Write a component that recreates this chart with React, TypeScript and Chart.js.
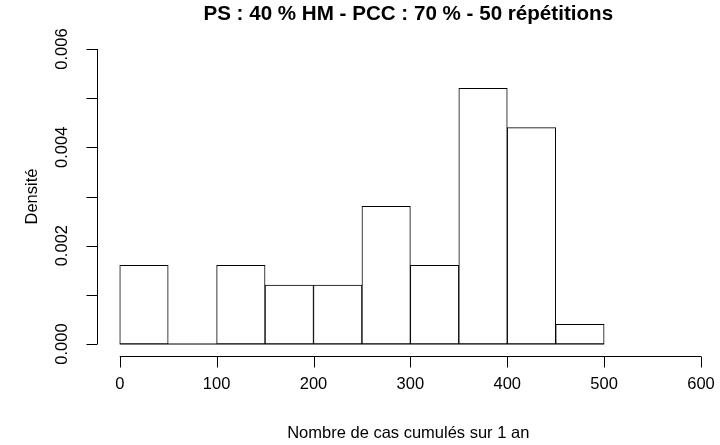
import React, { useEffect, useRef } from "react";
import { Chart, registerables } from "chart.js";

Chart.register(...registerables);

const breaks = [0, 50, 100, 150, 200, 250, 300, 350, 400, 450, 500];
const densities = [0.0016, 0, 0.0016, 0.0012, 0.0012, 0.0028, 0.0016, 0.0052, 0.0044, 0.0004];
const xTicks = [0, 100, 200, 300, 400, 500, 600];
const yTicks = [0, 0.001, 0.002, 0.003, 0.004, 0.005, 0.006];
const yTickLabels = ["0.000", "", "0.002", "", "0.004", "", "0.006"];
const title = "PS : 40 % HM - PCC : 70 % - 50 répétitions";
const xTitle = "Nombre de cas cumulés sur 1 an";
const yTitle = "Densité";

const FONT = '"Liberation Sans", Arial, Helvetica, sans-serif';

const rAxesPlugin = {
  id: "rAxes",
  afterDraw(chart: any) {
    const ctx = chart.ctx;
    const xs = chart.scales.x;
    const ys = chart.scales.y;
    const area = chart.chartArea;
    ctx.save();
    ctx.strokeStyle = "#000";
    ctx.fillStyle = "#000";
    ctx.lineWidth = 1;
    const tl = 11;

    // x axis
    const ax = Math.round(area.bottom) + 0.5;
    ctx.beginPath();
    ctx.moveTo(xs.getPixelForValue(xTicks[0]), ax);
    ctx.lineTo(xs.getPixelForValue(xTicks[xTicks.length - 1]), ax);
    xTicks.forEach((t) => {
      const px = Math.round(xs.getPixelForValue(t)) + 0.5;
      ctx.moveTo(px, ax);
      ctx.lineTo(px, ax + tl);
    });
    ctx.stroke();
    ctx.font = `16.5px ${FONT}`;
    ctx.textAlign = "center";
    ctx.textBaseline = "middle";
    xTicks.forEach((t) => {
      ctx.fillText(String(t), xs.getPixelForValue(t), 384);
    });

    // y axis
    const ay = Math.round(area.left) + 0.5;
    ctx.beginPath();
    ctx.moveTo(ay, ys.getPixelForValue(yTicks[0]));
    ctx.lineTo(ay, ys.getPixelForValue(yTicks[yTicks.length - 1]));
    yTicks.forEach((t) => {
      const py = Math.round(ys.getPixelForValue(t)) + 0.5;
      ctx.moveTo(ay, py);
      ctx.lineTo(ay - tl, py);
    });
    ctx.stroke();
    yTicks.forEach((t, i) => {
      const lbl = yTickLabels[i];
      if (!lbl) return;
      ctx.save();
      ctx.translate(62, ys.getPixelForValue(t));
      ctx.rotate(-Math.PI / 2);
      ctx.fillText(lbl, 0, 0);
      ctx.restore();
    });

    // titles
    const cx = (area.left + area.right) / 2;
    ctx.fillText(xTitle, cx, 433);
    ctx.save();
    ctx.translate(32, (area.top + area.bottom) / 2);
    ctx.rotate(-Math.PI / 2);
    ctx.fillText(yTitle, 0, 0);
    ctx.restore();
    ctx.font = `bold 20.6px ${FONT}`;
    ctx.fillText(title, cx, 14);
    ctx.restore();
  },
};

export default function App() {
  const ref = useRef<HTMLCanvasElement>(null);
  useEffect(() => {
    if (!ref.current) return;
    const barData = densities.map((d, i) => ({ x: (breaks[i] + breaks[i + 1]) / 2, y: d }));
    const baseLine = [
      { x: breaks[0], y: 0 },
      { x: breaks[breaks.length - 1], y: 0 },
    ];
    const chart = new Chart(ref.current, {
      type: "bar",
      data: {
        datasets: [
          {
            type: "bar",
            data: barData as any,
            backgroundColor: "#ffffff",
            borderColor: "#000000",
            borderWidth: 1,
            borderSkipped: false,
            barPercentage: 1,
            categoryPercentage: 1,
          } as any,
          {
            type: "line",
            data: baseLine as any,
            borderColor: "#000000",
            borderWidth: 1,
            pointRadius: 0,
            fill: false,
          } as any,
        ],
      },
      options: {
        animation: false,
        responsive: false,
        maintainAspectRatio: false,
        layout: { padding: { left: 96.5, right: 0, top: 37.2, bottom: 89.2 } },
        plugins: { legend: { display: false }, tooltip: { enabled: false }, title: { display: false } },
        scales: {
          x: { type: "linear", min: -24, max: 619.6, offset: false, display: false, grid: { offset: false } },
          y: { type: "linear", min: -0.00024, max: 0.00624, display: false },
        },
      },
      plugins: [rAxesPlugin],
    });
    return () => chart.destroy();
  }, []);
  return (
    <div style={{ position: "fixed", left: 0, top: 0, width: 720, height: 445, background: "#fff" }}>
      <canvas ref={ref} width={720} height={445} style={{ width: 720, height: 445, display: "block" }} />
    </div>
  );
}
